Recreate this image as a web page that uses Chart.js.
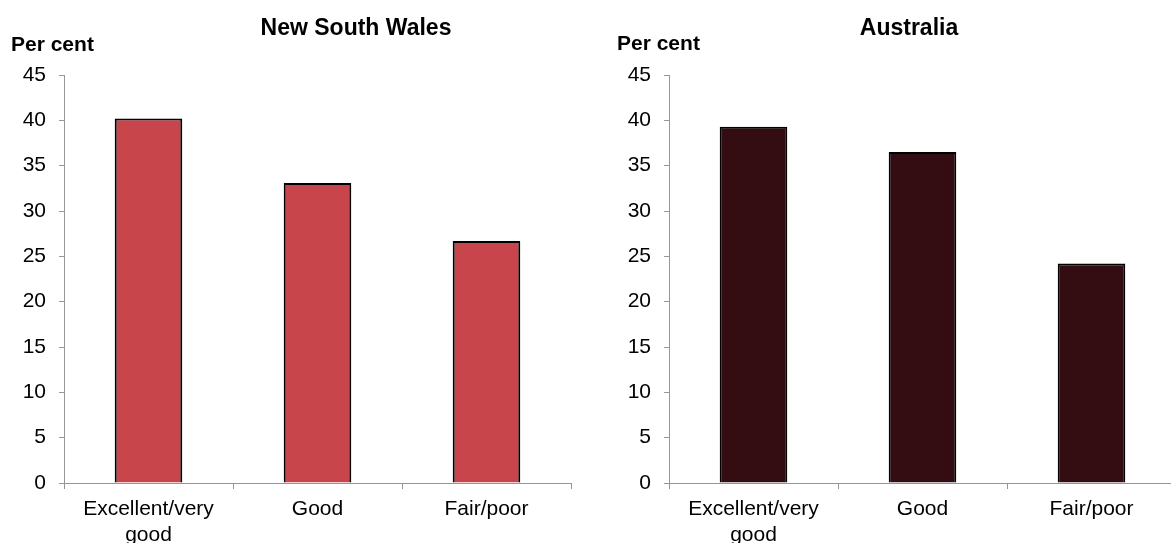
<!DOCTYPE html>
<html>
<head>
<meta charset="utf-8">
<script src="https://cdn.jsdelivr.net/npm/chart.js@4.4.1/dist/chart.umd.min.js"></script>
<style>
  html, body { margin: 0; padding: 0; background: #fff; overflow: hidden; width: 1171px; height: 543px; }
  canvas { position: absolute; top: 0; }
  #c1 { left: 0; }
  #c2 { left: 605px; }
</style>
</head>
<body>
<canvas id="c1" width="605" height="543"></canvas>
<canvas id="c2" width="605" height="543"></canvas>
<script>
const categories = [['Excellent/very', 'good'], 'Good', 'Fair/poor'];
const nswValues = [40.2, 33.1, 26.7];
const ausValues = [39.3, 36.5, 24.2];
const yMin = 0, yMax = 45, yStep = 5;
const titles = ['New South Wales', 'Australia'];
const unitLabel = 'Per cent';

const FONT = '"Liberation Sans", Arial, Helvetica, sans-serif';
const AXIS_COLOR = '#969696';

const textPlugin = {
  id: 'texts',
  afterDraw(chart, args, opts) {
    const ctx = chart.ctx;
    ctx.save();
    ctx.fillStyle = '#000';
    ctx.textBaseline = 'alphabetic';
    ctx.textAlign = 'center';
    ctx.font = 'bold 23px ' + FONT;
    ctx.fillText(opts.title, opts.titleX, opts.titleY);
    ctx.textAlign = 'left';
    ctx.font = 'bold 21px ' + FONT;
    ctx.fillText(opts.unit, opts.unitX, opts.unitY);
    ctx.restore();
  }
};

function makeChart(id, values, color, title, tpos) {
  return new Chart(document.getElementById(id), {
    type: 'bar',
    data: {
      labels: categories,
      datasets: [{
        data: values,
        backgroundColor: color,
        borderColor: '#000',
        borderWidth: 2,
        barPercentage: 0.4,
        categoryPercentage: 1.0
      }]
    },
    options: {
      responsive: false,
      animation: false,
      devicePixelRatio: 1,
      layout: { padding: { top: 75, right: 34, bottom: 0, left: 0 } },
      plugins: {
        legend: { display: false },
        tooltip: { enabled: false },
        title: { display: false },
        texts: Object.assign({ title: title, unit: unitLabel }, tpos)
      },
      scales: {
        x: {
          offset: true,
          grid: { display: true, drawOnChartArea: false, drawTicks: true, tickLength: 6, color: AXIS_COLOR, offset: true },
          border: { display: true, color: AXIS_COLOR, width: 1 },
          ticks: { color: '#000', font: { family: FONT, size: 21 }, padding: 8, maxRotation: 0, autoSkip: false },
          afterFit(scale) { scale.height = 60; }
        },
        y: {
          min: yMin, max: yMax,
          grid: { display: true, drawOnChartArea: false, drawTicks: true, tickLength: 5, color: AXIS_COLOR },
          border: { display: true, color: AXIS_COLOR, width: 1 },
          ticks: { stepSize: yStep, color: '#000', font: { family: FONT, size: 21 }, padding: 13 },
          afterFit(scale) { scale.width = 64; }
        }
      }
    },
    plugins: [textPlugin]
  });
}

makeChart('c1', nswValues, '#C8454B', titles[0], { titleX: 356, titleY: 35, unitX: 11, unitY: 51 });
makeChart('c2', ausValues, '#330D11', titles[1], { titleX: 304, titleY: 35, unitX: 12, unitY: 50 });
</script>
</body>
</html>
